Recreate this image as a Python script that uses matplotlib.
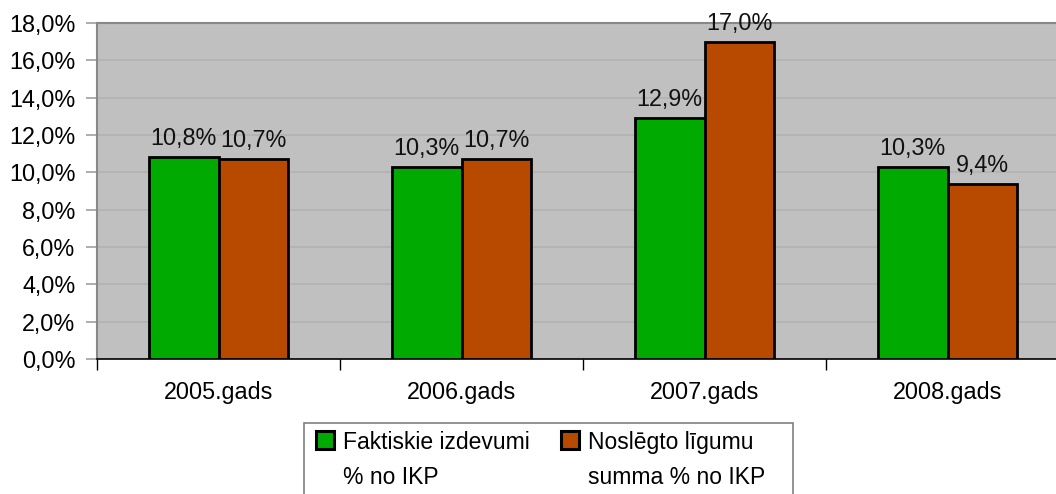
import matplotlib
matplotlib.use("Agg")
import matplotlib.pyplot as plt
import numpy as np
from matplotlib.patches import Patch, Rectangle
from matplotlib.legend_handler import HandlerPatch

categories = ["2005.gads", "2006.gads", "2007.gads", "2008.gads"]
faktiskie = [10.8, 10.3, 12.9, 10.3]
noslegto = [10.7, 10.7, 17.0, 9.4]
series_names = ["Faktiskie izdevumi\n% no IKP", "Noslēgto līgumu\nsumma % no IKP"]
yticks = [0, 2, 4, 6, 8, 10, 12, 14, 16, 18]

plt.rcParams['font.family'] = ['Liberation Sans', 'DejaVu Sans']
FS = 16.8
LFS = 16.5
LS = 1.69

fig = plt.figure(figsize=(10.56, 4.94), dpi=100)
W, H = 1056, 494
ax = fig.add_axes([97 / W, 1 - 359 / H, 972 / W, 336 / H])
ax.set_facecolor("#C0C0C0")

x = np.arange(len(categories))
bw = 0.287
green = "#00AA00"
orange = "#B84A00"
b1 = ax.bar(x - bw / 2, faktiskie, bw, color=green, edgecolor="black", linewidth=2, zorder=3)
b2 = ax.bar(x + bw / 2, noslegto, bw, color=orange, edgecolor="black", linewidth=2, zorder=3)

def fmt(v):
    return f"{v:.1f}%".replace(".", ",")

for bars, vals in ((b1, faktiskie), (b2, noslegto)):
    for rect, v in zip(bars, vals):
        ax.annotate(fmt(v), (rect.get_x() + rect.get_width() / 2, v), xytext=(0, 5),
                    textcoords="offset points", ha="center", va="bottom", fontsize=FS,
                    color="#111111", clip_on=False, zorder=5)

ax.set_xlim(-0.5, len(categories) - 0.5)
ax.set_ylim(0, 18)
ax.set_yticks(yticks)
ax.set_yticklabels([fmt(v) for v in yticks], fontsize=FS)
ax.yaxis.grid(True, color="#B2B2B2", linewidth=1.2, zorder=0)
ax.set_axisbelow(True)
ax.tick_params(axis="y", length=8, color="#A0A0A0", width=1.2, pad=7.5)

ax.set_xticks(x)
ax.set_xticklabels(categories, fontsize=FS)
ax.tick_params(axis="x", which="major", length=0, pad=16)
ax.set_xticks(np.arange(len(categories) + 1) - 0.5, minor=True)
ax.tick_params(axis="x", which="minor", length=8, color="black", width=1)

for s in ("top", "left"):
    ax.spines[s].set_color("#888888")
    ax.spines[s].set_linewidth(1.5)
ax.spines["right"].set_visible(False)
ax.spines["bottom"].set_color("black")
ax.spines["bottom"].set_linewidth(1.2)


class FirstLineSquare(HandlerPatch):
    def create_artists(self, legend, orig_handle, xdescent, ydescent, width, height,
                       fontsize, trans):
        spacing = 0.21 + 0.729 * LS
        yb = (0.106 + 0.5 * spacing) * fontsize
        s = 0.79 * fontsize
        r = Rectangle((-xdescent + 3.6, yb + 0.05 * fontsize), s, s,
                      facecolor=orig_handle.get_facecolor(), edgecolor="black",
                      linewidth=2.2, transform=trans)
        return [r]


handles = [Patch(facecolor=green, edgecolor="black"),
           Patch(facecolor=orange, edgecolor="black")]
leg = fig.legend(handles, series_names, loc="upper left",
                 bbox_to_anchor=(311 / W, 1 - 431 / H), ncol=2, fontsize=LFS,
                 frameon=False, handlelength=1.1, handleheight=0.7,
                 handletextpad=0.3, columnspacing=1.14, borderpad=0,
                 borderaxespad=0, labelspacing=0.2,
                 handler_map={Patch: FirstLineSquare()})
for t in leg.get_texts():
    t.set_linespacing(LS)

frame = Rectangle((304 / W, -0.05), (793 - 304) / W, (1 - 423 / H) + 0.05,
                  transform=fig.transFigure, facecolor="none", edgecolor="#808080",
                  linewidth=1.2)
fig.patches.append(frame)

fig.savefig("out.png", dpi=100, facecolor="white")
